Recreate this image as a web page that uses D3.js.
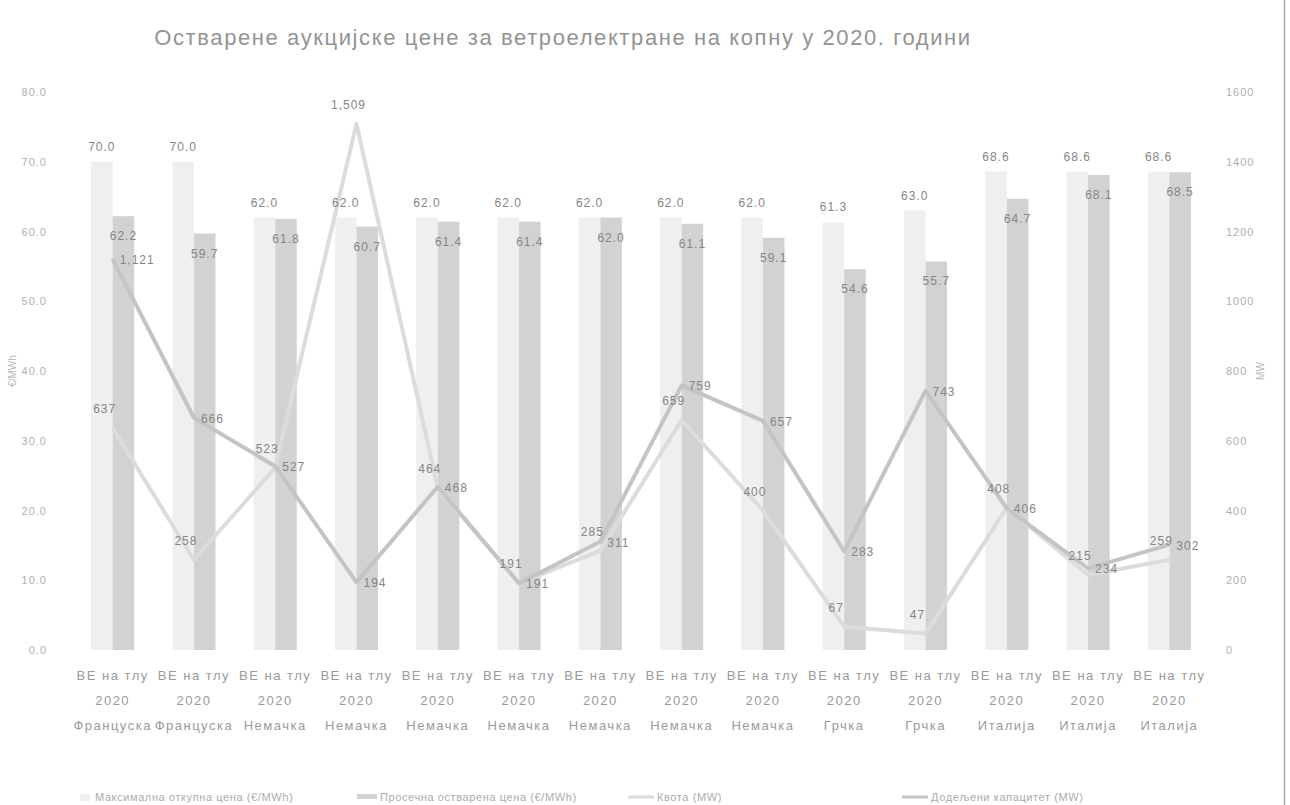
<!DOCTYPE html>
<html><head><meta charset="utf-8">
<script src="https://cdn.jsdelivr.net/npm/d3@7"></script>
<style>
body{margin:0;background:#fff}
svg{display:block}
text{font-family:"Liberation Sans",Arial,sans-serif}
</style>
</head><body>
<svg id="c" width="1290" height="805"></svg>
<script>
const projectTypes = ["ВЕ на тлу","ВЕ на тлу","ВЕ на тлу","ВЕ на тлу","ВЕ на тлу","ВЕ на тлу","ВЕ на тлу","ВЕ на тлу","ВЕ на тлу","ВЕ на тлу","ВЕ на тлу","ВЕ на тлу","ВЕ на тлу","ВЕ на тлу"];
const years = ["2020","2020","2020","2020","2020","2020","2020","2020","2020","2020","2020","2020","2020","2020"];
const countries = ["Француска","Француска","Немачка","Немачка","Немачка","Немачка","Немачка","Немачка","Немачка","Грчка","Грчка","Италија","Италија","Италија"];
const maxPrice = [70.0,70.0,62.0,62.0,62.0,62.0,62.0,62.0,62.0,61.3,63.0,68.6,68.6,68.6];
const avgPrice = [62.2,59.7,61.8,60.7,61.4,61.4,62.0,61.1,59.1,54.6,55.7,64.7,68.1,68.5];
const quota = [637,258,523,1509,464,191,285,659,400,67,47,408,215,259];
const awarded = [1121,666,527,194,468,191,311,759,657,283,743,406,234,302];
const leftTicks = [0,10,20,30,40,50,60,70,80];
const rightTicks = [0,200,400,600,800,1000,1200,1400,1600];
const seriesNames = ["Максимална откупна цена (€/MWh)","Просечна остварена цена (€/MWh)","Квота (MW)","Додељени капацитет (MW)"];
const title = "Остварене аукцијске цене за ветроелектране на копну у 2020. години";

const col = {max:"#efefef", avg:"#d2d2d2", quota:"#dcdcdc", awarded:"#c4c4c4"};

const svg = d3.select("#c");
const idx = d3.range(countries.length);
const x = d3.scaleBand().domain(idx).range([72,1210]).paddingInner(0.47).paddingOuter(0.235);
const xs = d3.scaleBand().domain(["max","avg"]).range([0,x.bandwidth()]);
const yL = d3.scaleLinear().domain([0,80]).range([650,92]);
const yR = d3.scaleLinear().domain([0,1600]).range([650,92]);
const cx = i => x(i)+x.bandwidth()/2;

// border on the right
svg.append("line").attr("x1",1284.5).attr("x2",1284.5).attr("y1",0).attr("y2",805).attr("stroke","#a8a8a8").attr("stroke-width",1.5);

// title
svg.append("text").attr("x",563).attr("y",45).attr("text-anchor","middle")
  .attr("font-size",22).attr("letter-spacing",1.6).attr("fill","#939393").text(title);

// axes
const gl = svg.append("g").attr("transform","translate(47,0)")
  .call(d3.axisLeft(yL).tickValues(leftTicks).tickFormat(d3.format(".1f")).tickSize(0).tickPadding(0));
const gr = svg.append("g").attr("transform","translate(1226,0)")
  .call(d3.axisRight(yR).tickValues(rightTicks).tickFormat(d3.format("d")).tickSize(0).tickPadding(0));
[gl,gr].forEach(g=>{g.select(".domain").remove();
  g.selectAll("text").attr("font-size",11).attr("letter-spacing",1).attr("fill","#b0b0b0")
   .style("font-family","'Liberation Sans',Arial,sans-serif");});

svg.append("text").attr("transform","translate(16,371) rotate(-90)").attr("text-anchor","middle")
  .attr("font-size",10).attr("fill","#b8b8b8").text("€/MWh");
svg.append("text").attr("transform","translate(1264,371) rotate(-90)").attr("text-anchor","middle")
  .attr("font-size",10).attr("fill","#b8b8b8").text("MW");

// bars
const gb = svg.append("g");
gb.selectAll(".bmax").data(idx).join("rect").attr("class","bmax")
  .attr("x",i=>x(i)+xs("max")).attr("width",xs.bandwidth())
  .attr("y",i=>yL(maxPrice[i])).attr("height",i=>yL(0)-yL(maxPrice[i]))
  .attr("fill",col.max);
gb.selectAll(".bavg").data(idx).join("rect").attr("class","bavg")
  .attr("x",i=>x(i)+xs("avg")).attr("width",xs.bandwidth())
  .attr("y",i=>yL(avgPrice[i])).attr("height",i=>yL(0)-yL(avgPrice[i]))
  .attr("fill",col.avg);

// lines
const line = arr => d3.line().x(i=>cx(i)).y(i=>yR(arr[i]))(idx);
svg.append("path").attr("d",line(quota)).attr("fill","none").attr("stroke",col.quota).attr("stroke-width",4).attr("stroke-linejoin","round");
svg.append("path").attr("d",line(awarded)).attr("fill","none").attr("stroke",col.awarded).attr("stroke-width",4).attr("stroke-linejoin","round");

// data labels
const lab = svg.append("g").attr("font-size",12).attr("letter-spacing",1).attr("fill","#858585");
lab.selectAll(".lmax").data(idx).join("text").attr("text-anchor","middle")
  .attr("x",i=>x(i)+xs("max")+xs.bandwidth()/2).attr("y",i=>yL(maxPrice[i])-11)
  .text(i=>d3.format(".1f")(maxPrice[i]));
lab.selectAll(".lavg").data(idx).join("text").attr("text-anchor","middle")
  .attr("x",i=>x(i)+xs("avg")+xs.bandwidth()/2).attr("y",i=>yL(avgPrice[i])+24)
  .text(i=>d3.format(".1f")(avgPrice[i]));
lab.selectAll(".lq").data(idx).join("text").attr("text-anchor","middle")
  .attr("x",i=>cx(i)-8).attr("y",i=>yR(quota[i])-15)
  .text(i=>d3.format(",")(quota[i]));
lab.selectAll(".la").data(idx).join("text").attr("text-anchor","start")
  .attr("x",i=>cx(i)+7).attr("y",i=>yR(awarded[i])+5)
  .text(i=>d3.format(",")(awarded[i]));

// x labels
const xl = svg.append("g").attr("font-size",13).attr("letter-spacing",1.5).attr("fill","#9a9a9a").attr("text-anchor","middle");
[[projectTypes,680],[years,705],[countries,730]].forEach(([arr,yy])=>{
  xl.selectAll(null).data(idx).join("text").attr("x",i=>cx(i)).attr("y",yy).text(i=>arr[i]);
});

// legend
const lg = svg.append("g").attr("font-size",11).attr("letter-spacing",0.6).attr("fill","#ababab");
const items = [
  {t:seriesNames[0], type:"rect", c:col.max, x:80},
  {t:seriesNames[1], type:"rect", c:col.avg, x:357},
  {t:seriesNames[2], type:"line", c:col.quota, x:628},
  {t:seriesNames[3], type:"line", c:col.awarded, x:902}
];
items.forEach(it=>{
  if(it.type==="rect") lg.append("rect").attr("x",it.x).attr("y",794).attr("width",it.x<100?10:20).attr("height",it.x<100?7:5).attr("fill",it.c);
  else lg.append("line").attr("x1",it.x).attr("x2",it.x+26).attr("y1",797).attr("y2",797).attr("stroke",it.c).attr("stroke-width",3);
  lg.append("text").attr("x",it.type==="rect"?(it.x<100?95:380):it.x+29).attr("y",801).text(it.t);
});
</script>
</body></html>
